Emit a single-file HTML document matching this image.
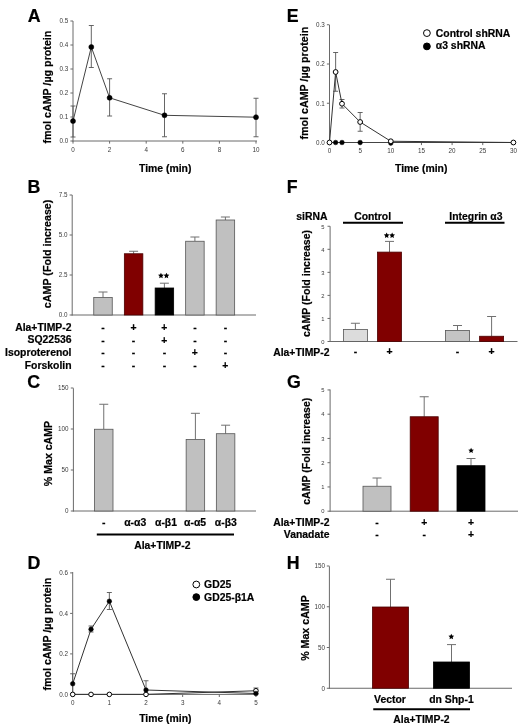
<!DOCTYPE html>
<html><head><meta charset="utf-8"><title>Figure</title>
<style>
html,body{margin:0;padding:0;background:#fff;}
body{width:520px;height:726px;overflow:hidden;}
svg{display:block;filter:blur(0.4px);}
text{font-family:"Liberation Sans", sans-serif;}
text[font-weight]{stroke:#000;stroke-width:0.2px;}
</style></head>
<body>
<svg width="520" height="726" viewBox="0 0 520 726">
<rect x="0" y="0" width="520" height="726" fill="#fff"/>
<text x="27.8" y="21.7" font-size="17.8" font-weight="bold">A</text>
<line x1="73" y1="21" x2="73" y2="141.5" stroke="#6a6a6a" stroke-width="1"/>
<line x1="70.4" y1="141" x2="73" y2="141" stroke="#6a6a6a" stroke-width="1"/>
<text x="68.2" y="143.25" font-size="6.3" text-anchor="end" fill="#3a3a3a">0.0</text>
<line x1="70.4" y1="117" x2="73" y2="117" stroke="#6a6a6a" stroke-width="1"/>
<text x="68.2" y="119.25" font-size="6.3" text-anchor="end" fill="#3a3a3a">0.1</text>
<line x1="70.4" y1="93" x2="73" y2="93" stroke="#6a6a6a" stroke-width="1"/>
<text x="68.2" y="95.25" font-size="6.3" text-anchor="end" fill="#3a3a3a">0.2</text>
<line x1="70.4" y1="69" x2="73" y2="69" stroke="#6a6a6a" stroke-width="1"/>
<text x="68.2" y="71.25" font-size="6.3" text-anchor="end" fill="#3a3a3a">0.3</text>
<line x1="70.4" y1="45" x2="73" y2="45" stroke="#6a6a6a" stroke-width="1"/>
<text x="68.2" y="47.25" font-size="6.3" text-anchor="end" fill="#3a3a3a">0.4</text>
<line x1="70.4" y1="21" x2="73" y2="21" stroke="#6a6a6a" stroke-width="1"/>
<text x="68.2" y="23.25" font-size="6.3" text-anchor="end" fill="#3a3a3a">0.5</text>
<line x1="72.5" y1="141" x2="257" y2="141" stroke="#6a6a6a" stroke-width="1"/>
<line x1="73" y1="141" x2="73" y2="143.6" stroke="#6a6a6a" stroke-width="1"/>
<text x="73" y="151.7" font-size="6.3" text-anchor="middle" fill="#3a3a3a">0</text>
<line x1="109.6" y1="141" x2="109.6" y2="143.6" stroke="#6a6a6a" stroke-width="1"/>
<text x="109.6" y="151.7" font-size="6.3" text-anchor="middle" fill="#3a3a3a">2</text>
<line x1="146.2" y1="141" x2="146.2" y2="143.6" stroke="#6a6a6a" stroke-width="1"/>
<text x="146.2" y="151.7" font-size="6.3" text-anchor="middle" fill="#3a3a3a">4</text>
<line x1="182.8" y1="141" x2="182.8" y2="143.6" stroke="#6a6a6a" stroke-width="1"/>
<text x="182.8" y="151.7" font-size="6.3" text-anchor="middle" fill="#3a3a3a">6</text>
<line x1="219.4" y1="141" x2="219.4" y2="143.6" stroke="#6a6a6a" stroke-width="1"/>
<text x="219.4" y="151.7" font-size="6.3" text-anchor="middle" fill="#3a3a3a">8</text>
<line x1="256" y1="141" x2="256" y2="143.6" stroke="#6a6a6a" stroke-width="1"/>
<text x="256" y="151.7" font-size="6.3" text-anchor="middle" fill="#3a3a3a">10</text>
<line x1="73" y1="106" x2="73" y2="137" stroke="#555" stroke-width="0.9"/>
<line x1="70.5" y1="106" x2="75.5" y2="106" stroke="#555" stroke-width="0.9"/>
<line x1="70.5" y1="137" x2="75.5" y2="137" stroke="#555" stroke-width="0.9"/>
<line x1="91.3" y1="25.5" x2="91.3" y2="67.5" stroke="#555" stroke-width="0.9"/>
<line x1="88.8" y1="25.5" x2="93.8" y2="25.5" stroke="#555" stroke-width="0.9"/>
<line x1="88.8" y1="67.5" x2="93.8" y2="67.5" stroke="#555" stroke-width="0.9"/>
<line x1="109.6" y1="78.75" x2="109.6" y2="116" stroke="#555" stroke-width="0.9"/>
<line x1="107.1" y1="78.75" x2="112.1" y2="78.75" stroke="#555" stroke-width="0.9"/>
<line x1="107.1" y1="116" x2="112.1" y2="116" stroke="#555" stroke-width="0.9"/>
<line x1="164.5" y1="93.75" x2="164.5" y2="136.75" stroke="#555" stroke-width="0.9"/>
<line x1="162" y1="93.75" x2="167" y2="93.75" stroke="#555" stroke-width="0.9"/>
<line x1="162" y1="136.75" x2="167" y2="136.75" stroke="#555" stroke-width="0.9"/>
<line x1="256" y1="98.25" x2="256" y2="136.75" stroke="#555" stroke-width="0.9"/>
<line x1="253.5" y1="98.25" x2="258.5" y2="98.25" stroke="#555" stroke-width="0.9"/>
<line x1="253.5" y1="136.75" x2="258.5" y2="136.75" stroke="#555" stroke-width="0.9"/>
<polyline points="73,121.1 91.3,47 109.6,97.8 164.5,115.3 256,117.2" fill="none" stroke="#444" stroke-width="1"/>
<circle cx="73" cy="121.1" r="2.5" fill="#000" stroke="#000" stroke-width="0.5"/>
<circle cx="91.3" cy="47" r="2.5" fill="#000" stroke="#000" stroke-width="0.5"/>
<circle cx="109.6" cy="97.8" r="2.5" fill="#000" stroke="#000" stroke-width="0.5"/>
<circle cx="164.5" cy="115.3" r="2.5" fill="#000" stroke="#000" stroke-width="0.5"/>
<circle cx="256" cy="117.2" r="2.5" fill="#000" stroke="#000" stroke-width="0.5"/>
<text x="51.2" y="87.1" font-size="10.7" font-weight="bold" text-anchor="middle" transform="rotate(-90 51.2 87.1)">fmol cAMP /µg protein</text>
<text x="165.25" y="172" font-size="10.4" font-weight="bold" text-anchor="middle">Time (min)</text>
<text x="27.6" y="193" font-size="17.8" font-weight="bold">B</text>
<line x1="72.2" y1="195" x2="72.2" y2="315.5" stroke="#6a6a6a" stroke-width="1"/>
<line x1="69.6" y1="315" x2="72.2" y2="315" stroke="#6a6a6a" stroke-width="1"/>
<text x="67.4" y="317.25" font-size="6.3" text-anchor="end" fill="#3a3a3a">0.0</text>
<line x1="69.6" y1="275" x2="72.2" y2="275" stroke="#6a6a6a" stroke-width="1"/>
<text x="67.4" y="277.25" font-size="6.3" text-anchor="end" fill="#3a3a3a">2.5</text>
<line x1="69.6" y1="235" x2="72.2" y2="235" stroke="#6a6a6a" stroke-width="1"/>
<text x="67.4" y="237.25" font-size="6.3" text-anchor="end" fill="#3a3a3a">5.0</text>
<line x1="69.6" y1="195" x2="72.2" y2="195" stroke="#6a6a6a" stroke-width="1"/>
<text x="67.4" y="197.25" font-size="6.3" text-anchor="end" fill="#3a3a3a">7.5</text>
<line x1="71.7" y1="315" x2="256" y2="315" stroke="#6a6a6a" stroke-width="1"/>
<line x1="103" y1="292" x2="103" y2="297.5" stroke="#707070" stroke-width="1"/>
<line x1="98.5" y1="292" x2="107.5" y2="292" stroke="#707070" stroke-width="1"/>
<rect x="93.75" y="297.5" width="18.5" height="17.5" fill="#c0c0c0" stroke="#555" stroke-width="0.8"/>
<line x1="133.6" y1="251.25" x2="133.6" y2="253.75" stroke="#707070" stroke-width="1"/>
<line x1="129.1" y1="251.25" x2="138.1" y2="251.25" stroke="#707070" stroke-width="1"/>
<rect x="124.35" y="253.75" width="18.5" height="61.25" fill="#800000" stroke="#4a0000" stroke-width="0.8"/>
<line x1="164.4" y1="283.2" x2="164.4" y2="288" stroke="#707070" stroke-width="1"/>
<line x1="159.9" y1="283.2" x2="168.9" y2="283.2" stroke="#707070" stroke-width="1"/>
<rect x="155.15" y="288" width="18.5" height="27" fill="#000" stroke="#000" stroke-width="0.8"/>
<line x1="194.9" y1="237" x2="194.9" y2="241.25" stroke="#707070" stroke-width="1"/>
<line x1="190.4" y1="237" x2="199.4" y2="237" stroke="#707070" stroke-width="1"/>
<rect x="185.65" y="241.25" width="18.5" height="73.75" fill="#c0c0c0" stroke="#555" stroke-width="0.8"/>
<line x1="225.4" y1="217" x2="225.4" y2="220" stroke="#707070" stroke-width="1"/>
<line x1="220.9" y1="217" x2="229.9" y2="217" stroke="#707070" stroke-width="1"/>
<rect x="216.15" y="220" width="18.5" height="95" fill="#c0c0c0" stroke="#555" stroke-width="0.8"/>
<polygon points="160.95,272.7 161.8,274.53 163.8,274.77 162.33,276.15 162.71,278.13 160.95,277.15 159.19,278.13 159.57,276.15 158.1,274.77 160.1,274.53" fill="#000"/>
<polygon points="166.45,272.7 167.3,274.53 169.3,274.77 167.83,276.15 168.21,278.13 166.45,277.15 164.69,278.13 165.07,276.15 163.6,274.77 165.6,274.53" fill="#000"/>
<text x="71.5" y="330.5" font-size="10.4" font-weight="bold" text-anchor="end">Ala+TIMP-2</text>
<text x="103" y="331" font-size="10.4" font-weight="bold" text-anchor="middle">-</text>
<text x="133.6" y="331" font-size="10.4" font-weight="bold" text-anchor="middle">+</text>
<text x="164.4" y="331" font-size="10.4" font-weight="bold" text-anchor="middle">+</text>
<text x="194.9" y="331" font-size="10.4" font-weight="bold" text-anchor="middle">-</text>
<text x="225.4" y="331" font-size="10.4" font-weight="bold" text-anchor="middle">-</text>
<text x="71.5" y="343.2" font-size="10.4" font-weight="bold" text-anchor="end">SQ22536</text>
<text x="103" y="343.7" font-size="10.4" font-weight="bold" text-anchor="middle">-</text>
<text x="133.6" y="343.7" font-size="10.4" font-weight="bold" text-anchor="middle">-</text>
<text x="164.4" y="343.7" font-size="10.4" font-weight="bold" text-anchor="middle">+</text>
<text x="194.9" y="343.7" font-size="10.4" font-weight="bold" text-anchor="middle">-</text>
<text x="225.4" y="343.7" font-size="10.4" font-weight="bold" text-anchor="middle">-</text>
<text x="71.5" y="355.9" font-size="10.4" font-weight="bold" text-anchor="end">Isoproterenol</text>
<text x="103" y="356.4" font-size="10.4" font-weight="bold" text-anchor="middle">-</text>
<text x="133.6" y="356.4" font-size="10.4" font-weight="bold" text-anchor="middle">-</text>
<text x="164.4" y="356.4" font-size="10.4" font-weight="bold" text-anchor="middle">-</text>
<text x="194.9" y="356.4" font-size="10.4" font-weight="bold" text-anchor="middle">+</text>
<text x="225.4" y="356.4" font-size="10.4" font-weight="bold" text-anchor="middle">-</text>
<text x="71.5" y="368.6" font-size="10.4" font-weight="bold" text-anchor="end">Forskolin</text>
<text x="103" y="369.1" font-size="10.4" font-weight="bold" text-anchor="middle">-</text>
<text x="133.6" y="369.1" font-size="10.4" font-weight="bold" text-anchor="middle">-</text>
<text x="164.4" y="369.1" font-size="10.4" font-weight="bold" text-anchor="middle">-</text>
<text x="194.9" y="369.1" font-size="10.4" font-weight="bold" text-anchor="middle">-</text>
<text x="225.4" y="369.1" font-size="10.4" font-weight="bold" text-anchor="middle">+</text>
<text x="51.3" y="253.9" font-size="10.7" font-weight="bold" text-anchor="middle" transform="rotate(-90 51.3 253.9)">cAMP (Fold increase)</text>
<text x="27.3" y="387.9" font-size="17.8" font-weight="bold">C</text>
<line x1="73.4" y1="388.25" x2="73.4" y2="511.5" stroke="#6a6a6a" stroke-width="1"/>
<line x1="70.8" y1="511" x2="73.4" y2="511" stroke="#6a6a6a" stroke-width="1"/>
<text x="68.6" y="513.25" font-size="6.3" text-anchor="end" fill="#3a3a3a">0</text>
<line x1="70.8" y1="470" x2="73.4" y2="470" stroke="#6a6a6a" stroke-width="1"/>
<text x="68.6" y="472.25" font-size="6.3" text-anchor="end" fill="#3a3a3a">50</text>
<line x1="70.8" y1="429" x2="73.4" y2="429" stroke="#6a6a6a" stroke-width="1"/>
<text x="68.6" y="431.25" font-size="6.3" text-anchor="end" fill="#3a3a3a">100</text>
<line x1="70.8" y1="388" x2="73.4" y2="388" stroke="#6a6a6a" stroke-width="1"/>
<text x="68.6" y="390.25" font-size="6.3" text-anchor="end" fill="#3a3a3a">150</text>
<line x1="72.9" y1="511" x2="256" y2="511" stroke="#6a6a6a" stroke-width="1"/>
<line x1="103.75" y1="404.25" x2="103.75" y2="429.25" stroke="#707070" stroke-width="1"/>
<line x1="99.25" y1="404.25" x2="108.25" y2="404.25" stroke="#707070" stroke-width="1"/>
<rect x="94.5" y="429.25" width="18.5" height="81.75" fill="#c0c0c0" stroke="#555" stroke-width="0.8"/>
<line x1="195.4" y1="413.3" x2="195.4" y2="439.5" stroke="#707070" stroke-width="1"/>
<line x1="190.9" y1="413.3" x2="199.9" y2="413.3" stroke="#707070" stroke-width="1"/>
<rect x="186.15" y="439.5" width="18.5" height="71.5" fill="#c0c0c0" stroke="#555" stroke-width="0.8"/>
<line x1="225.6" y1="425.2" x2="225.6" y2="433.7" stroke="#707070" stroke-width="1"/>
<line x1="221.1" y1="425.2" x2="230.1" y2="425.2" stroke="#707070" stroke-width="1"/>
<rect x="216.35" y="433.7" width="18.5" height="77.3" fill="#c0c0c0" stroke="#555" stroke-width="0.8"/>
<text x="103.75" y="526.3" font-size="10.4" font-weight="bold" text-anchor="middle">-</text>
<text x="135.2" y="526.3" font-size="10.4" font-weight="bold" text-anchor="middle">α-α3</text>
<text x="166" y="526.3" font-size="10.4" font-weight="bold" text-anchor="middle">α-β1</text>
<text x="195.1" y="526.3" font-size="10.4" font-weight="bold" text-anchor="middle">α-α5</text>
<text x="225.8" y="526.3" font-size="10.4" font-weight="bold" text-anchor="middle">α-β3</text>
<line x1="96.8" y1="534.6" x2="234" y2="534.6" stroke="#000" stroke-width="2"/>
<text x="162.3" y="548.5" font-size="10.4" font-weight="bold" text-anchor="middle">Ala+TIMP-2</text>
<text x="52.3" y="453.5" font-size="10.6" font-weight="bold" text-anchor="middle" transform="rotate(-90 52.3 453.5)">% Max cAMP</text>
<text x="27.6" y="569" font-size="17.8" font-weight="bold">D</text>
<line x1="72.7" y1="572" x2="72.7" y2="694.9" stroke="#6a6a6a" stroke-width="1"/>
<line x1="70.1" y1="694.4" x2="72.7" y2="694.4" stroke="#6a6a6a" stroke-width="1"/>
<text x="67.9" y="696.65" font-size="6.3" text-anchor="end" fill="#3a3a3a">0.0</text>
<line x1="70.1" y1="653.9" x2="72.7" y2="653.9" stroke="#6a6a6a" stroke-width="1"/>
<text x="67.9" y="656.15" font-size="6.3" text-anchor="end" fill="#3a3a3a">0.2</text>
<line x1="70.1" y1="613.4" x2="72.7" y2="613.4" stroke="#6a6a6a" stroke-width="1"/>
<text x="67.9" y="615.65" font-size="6.3" text-anchor="end" fill="#3a3a3a">0.4</text>
<line x1="70.1" y1="572.9" x2="72.7" y2="572.9" stroke="#6a6a6a" stroke-width="1"/>
<text x="67.9" y="575.15" font-size="6.3" text-anchor="end" fill="#3a3a3a">0.6</text>
<line x1="72.2" y1="694.4" x2="257.5" y2="694.4" stroke="#6a6a6a" stroke-width="1"/>
<line x1="72.7" y1="694.4" x2="72.7" y2="697" stroke="#6a6a6a" stroke-width="1"/>
<text x="72.7" y="704.6" font-size="6.3" text-anchor="middle" fill="#3a3a3a">0</text>
<line x1="109.35" y1="694.4" x2="109.35" y2="697" stroke="#6a6a6a" stroke-width="1"/>
<text x="109.35" y="704.6" font-size="6.3" text-anchor="middle" fill="#3a3a3a">1</text>
<line x1="146" y1="694.4" x2="146" y2="697" stroke="#6a6a6a" stroke-width="1"/>
<text x="146" y="704.6" font-size="6.3" text-anchor="middle" fill="#3a3a3a">2</text>
<line x1="182.65" y1="694.4" x2="182.65" y2="697" stroke="#6a6a6a" stroke-width="1"/>
<text x="182.65" y="704.6" font-size="6.3" text-anchor="middle" fill="#3a3a3a">3</text>
<line x1="219.3" y1="694.4" x2="219.3" y2="697" stroke="#6a6a6a" stroke-width="1"/>
<text x="219.3" y="704.6" font-size="6.3" text-anchor="middle" fill="#3a3a3a">4</text>
<line x1="255.95" y1="694.4" x2="255.95" y2="697" stroke="#6a6a6a" stroke-width="1"/>
<text x="255.95" y="704.6" font-size="6.3" text-anchor="middle" fill="#3a3a3a">5</text>
<line x1="72.7" y1="673.75" x2="72.7" y2="694" stroke="#555" stroke-width="0.9"/>
<line x1="70.2" y1="673.75" x2="75.2" y2="673.75" stroke="#555" stroke-width="0.9"/>
<line x1="70.2" y1="694" x2="75.2" y2="694" stroke="#555" stroke-width="0.9"/>
<line x1="91.03" y1="626" x2="91.03" y2="632" stroke="#555" stroke-width="0.9"/>
<line x1="88.53" y1="626" x2="93.53" y2="626" stroke="#555" stroke-width="0.9"/>
<line x1="88.53" y1="632" x2="93.53" y2="632" stroke="#555" stroke-width="0.9"/>
<line x1="109.35" y1="592.5" x2="109.35" y2="609.5" stroke="#555" stroke-width="0.9"/>
<line x1="106.85" y1="592.5" x2="111.85" y2="592.5" stroke="#555" stroke-width="0.9"/>
<line x1="106.85" y1="609.5" x2="111.85" y2="609.5" stroke="#555" stroke-width="0.9"/>
<line x1="146" y1="680.75" x2="146" y2="694" stroke="#555" stroke-width="0.9"/>
<line x1="143.5" y1="680.75" x2="148.5" y2="680.75" stroke="#555" stroke-width="0.9"/>
<line x1="143.5" y1="694" x2="148.5" y2="694" stroke="#555" stroke-width="0.9"/>
<line x1="255.95" y1="688" x2="255.95" y2="694" stroke="#555" stroke-width="0.9"/>
<line x1="253.45" y1="688" x2="258.45" y2="688" stroke="#555" stroke-width="0.9"/>
<line x1="253.45" y1="694" x2="258.45" y2="694" stroke="#555" stroke-width="0.9"/>
<polyline points="72.7,694.4 91.03,694.4 109.35,694.4 146,694.4 255.95,690.75" fill="none" stroke="#333" stroke-width="1"/>
<polyline points="72.7,683.75 91.03,629.25 109.35,601.25 146,690 255.95,693.5" fill="none" stroke="#333" stroke-width="1"/>
<circle cx="72.7" cy="694.4" r="2.3" fill="#fff" stroke="#000" stroke-width="1"/>
<circle cx="91.03" cy="694.4" r="2.3" fill="#fff" stroke="#000" stroke-width="1"/>
<circle cx="109.35" cy="694.4" r="2.3" fill="#fff" stroke="#000" stroke-width="1"/>
<circle cx="146" cy="694.4" r="2.3" fill="#fff" stroke="#000" stroke-width="1"/>
<circle cx="255.95" cy="690.75" r="2.3" fill="#fff" stroke="#000" stroke-width="1"/>
<circle cx="72.7" cy="683.75" r="2.3" fill="#000" stroke="#000" stroke-width="0.5"/>
<circle cx="91.03" cy="629.25" r="2.3" fill="#000" stroke="#000" stroke-width="0.5"/>
<circle cx="109.35" cy="601.25" r="2.3" fill="#000" stroke="#000" stroke-width="0.5"/>
<circle cx="146" cy="690" r="2.3" fill="#000" stroke="#000" stroke-width="0.5"/>
<circle cx="255.95" cy="693.5" r="2.3" fill="#000" stroke="#000" stroke-width="0.5"/>
<circle cx="196.3" cy="584.5" r="3.4" fill="#fff" stroke="#000" stroke-width="1"/>
<text x="204.1" y="588.4" font-size="10.4" font-weight="bold">GD25</text>
<circle cx="196.3" cy="597.1" r="3.4" fill="#000" stroke="#000" stroke-width="1"/>
<text x="204.1" y="600.9" font-size="10.4" font-weight="bold">GD25-β1A</text>
<text x="51.3" y="634.2" font-size="10.7" font-weight="bold" text-anchor="middle" transform="rotate(-90 51.3 634.2)">fmol cAMP /µg protein</text>
<text x="165.3" y="722" font-size="10.4" font-weight="bold" text-anchor="middle">Time (min)</text>
<text x="286.8" y="22" font-size="17.8" font-weight="bold">E</text>
<line x1="329.5" y1="25" x2="329.5" y2="143" stroke="#6a6a6a" stroke-width="1"/>
<line x1="326.9" y1="142.5" x2="329.5" y2="142.5" stroke="#6a6a6a" stroke-width="1"/>
<text x="324.7" y="144.75" font-size="6.3" text-anchor="end" fill="#3a3a3a">0.0</text>
<line x1="326.9" y1="103.25" x2="329.5" y2="103.25" stroke="#6a6a6a" stroke-width="1"/>
<text x="324.7" y="105.5" font-size="6.3" text-anchor="end" fill="#3a3a3a">0.1</text>
<line x1="326.9" y1="64" x2="329.5" y2="64" stroke="#6a6a6a" stroke-width="1"/>
<text x="324.7" y="66.25" font-size="6.3" text-anchor="end" fill="#3a3a3a">0.2</text>
<line x1="326.9" y1="24.75" x2="329.5" y2="24.75" stroke="#6a6a6a" stroke-width="1"/>
<text x="324.7" y="27" font-size="6.3" text-anchor="end" fill="#3a3a3a">0.3</text>
<line x1="329" y1="142.5" x2="514" y2="142.5" stroke="#6a6a6a" stroke-width="1"/>
<line x1="329.5" y1="142.5" x2="329.5" y2="145.1" stroke="#6a6a6a" stroke-width="1"/>
<text x="329.5" y="152.9" font-size="6.3" text-anchor="middle" fill="#3a3a3a">0</text>
<line x1="360.15" y1="142.5" x2="360.15" y2="145.1" stroke="#6a6a6a" stroke-width="1"/>
<text x="360.15" y="152.9" font-size="6.3" text-anchor="middle" fill="#3a3a3a">5</text>
<line x1="390.8" y1="142.5" x2="390.8" y2="145.1" stroke="#6a6a6a" stroke-width="1"/>
<text x="390.8" y="152.9" font-size="6.3" text-anchor="middle" fill="#3a3a3a">10</text>
<line x1="421.45" y1="142.5" x2="421.45" y2="145.1" stroke="#6a6a6a" stroke-width="1"/>
<text x="421.45" y="152.9" font-size="6.3" text-anchor="middle" fill="#3a3a3a">15</text>
<line x1="452.1" y1="142.5" x2="452.1" y2="145.1" stroke="#6a6a6a" stroke-width="1"/>
<text x="452.1" y="152.9" font-size="6.3" text-anchor="middle" fill="#3a3a3a">20</text>
<line x1="482.75" y1="142.5" x2="482.75" y2="145.1" stroke="#6a6a6a" stroke-width="1"/>
<text x="482.75" y="152.9" font-size="6.3" text-anchor="middle" fill="#3a3a3a">25</text>
<line x1="513.4" y1="142.5" x2="513.4" y2="145.1" stroke="#6a6a6a" stroke-width="1"/>
<text x="513.4" y="152.9" font-size="6.3" text-anchor="middle" fill="#3a3a3a">30</text>
<line x1="335.63" y1="52.5" x2="335.63" y2="91.25" stroke="#555" stroke-width="0.9"/>
<line x1="333.13" y1="52.5" x2="338.13" y2="52.5" stroke="#555" stroke-width="0.9"/>
<line x1="333.13" y1="91.25" x2="338.13" y2="91.25" stroke="#555" stroke-width="0.9"/>
<line x1="342" y1="99.5" x2="342" y2="108" stroke="#555" stroke-width="0.9"/>
<line x1="339.5" y1="99.5" x2="344.5" y2="99.5" stroke="#555" stroke-width="0.9"/>
<line x1="339.5" y1="108" x2="344.5" y2="108" stroke="#555" stroke-width="0.9"/>
<line x1="360.15" y1="112.5" x2="360.15" y2="131.25" stroke="#555" stroke-width="0.9"/>
<line x1="357.65" y1="112.5" x2="362.65" y2="112.5" stroke="#555" stroke-width="0.9"/>
<line x1="357.65" y1="131.25" x2="362.65" y2="131.25" stroke="#555" stroke-width="0.9"/>
<polyline points="329.5,142.5 335.63,142.5 342,142.5 360.15,142.5 390.8,142.5 513.4,142.5" fill="none" stroke="#444" stroke-width="1.2"/>
<polyline points="329.5,142.5 335.63,72 342,103.75 360.15,122 390.8,141.25 513.4,142.5" fill="none" stroke="#333" stroke-width="1"/>
<circle cx="335.63" cy="142.5" r="2.3" fill="#000" stroke="#000" stroke-width="0.5"/>
<circle cx="342" cy="142.5" r="2.3" fill="#000" stroke="#000" stroke-width="0.5"/>
<circle cx="360.15" cy="142.5" r="2.3" fill="#000" stroke="#000" stroke-width="0.5"/>
<circle cx="390.8" cy="143.1" r="2.3" fill="#000" stroke="#000" stroke-width="0.5"/>
<circle cx="329.5" cy="142.5" r="2.4" fill="#fff" stroke="#000" stroke-width="1"/>
<circle cx="335.63" cy="72" r="2.4" fill="#fff" stroke="#000" stroke-width="1"/>
<circle cx="342" cy="103.75" r="2.4" fill="#fff" stroke="#000" stroke-width="1"/>
<circle cx="360.15" cy="122" r="2.4" fill="#fff" stroke="#000" stroke-width="1"/>
<circle cx="390.8" cy="141.25" r="2.4" fill="#fff" stroke="#000" stroke-width="1"/>
<circle cx="513.4" cy="142.5" r="2.4" fill="#fff" stroke="#000" stroke-width="1"/>
<circle cx="426.9" cy="33.1" r="3.4" fill="#fff" stroke="#000" stroke-width="1"/>
<text x="435.8" y="36.6" font-size="10.4" font-weight="bold">Control shRNA</text>
<circle cx="426.9" cy="46.4" r="3.4" fill="#000" stroke="#000" stroke-width="1"/>
<text x="435.8" y="49.3" font-size="10.4" font-weight="bold">α3 shRNA</text>
<text x="308.4" y="83.1" font-size="10.7" font-weight="bold" text-anchor="middle" transform="rotate(-90 308.4 83.1)">fmol cAMP /µg protein</text>
<text x="421.25" y="172" font-size="10.4" font-weight="bold" text-anchor="middle">Time (min)</text>
<text x="286.8" y="193.2" font-size="17.8" font-weight="bold">F</text>
<line x1="330.1" y1="226.25" x2="330.1" y2="342" stroke="#6a6a6a" stroke-width="1"/>
<line x1="327.5" y1="341.5" x2="330.1" y2="341.5" stroke="#6a6a6a" stroke-width="1"/>
<text x="324.6" y="343.75" font-size="5.8" text-anchor="end" fill="#3a3a3a">0</text>
<line x1="327.5" y1="318.45" x2="330.1" y2="318.45" stroke="#6a6a6a" stroke-width="1"/>
<text x="324.6" y="320.7" font-size="5.8" text-anchor="end" fill="#3a3a3a">1</text>
<line x1="327.5" y1="295.4" x2="330.1" y2="295.4" stroke="#6a6a6a" stroke-width="1"/>
<text x="324.6" y="297.65" font-size="5.8" text-anchor="end" fill="#3a3a3a">2</text>
<line x1="327.5" y1="272.35" x2="330.1" y2="272.35" stroke="#6a6a6a" stroke-width="1"/>
<text x="324.6" y="274.6" font-size="5.8" text-anchor="end" fill="#3a3a3a">3</text>
<line x1="327.5" y1="249.3" x2="330.1" y2="249.3" stroke="#6a6a6a" stroke-width="1"/>
<text x="324.6" y="251.55" font-size="5.8" text-anchor="end" fill="#3a3a3a">4</text>
<line x1="327.5" y1="226.25" x2="330.1" y2="226.25" stroke="#6a6a6a" stroke-width="1"/>
<text x="324.6" y="228.5" font-size="5.8" text-anchor="end" fill="#3a3a3a">5</text>
<line x1="329.6" y1="341.5" x2="517.5" y2="341.5" stroke="#6a6a6a" stroke-width="1"/>
<line x1="355.4" y1="323.25" x2="355.4" y2="329.5" stroke="#707070" stroke-width="1"/>
<line x1="350.9" y1="323.25" x2="359.9" y2="323.25" stroke="#707070" stroke-width="1"/>
<rect x="343.4" y="329.5" width="24" height="12" fill="#dcdcdc" stroke="#555" stroke-width="0.8"/>
<line x1="389.5" y1="241.4" x2="389.5" y2="252.1" stroke="#707070" stroke-width="1"/>
<line x1="385" y1="241.4" x2="394" y2="241.4" stroke="#707070" stroke-width="1"/>
<rect x="377.5" y="252.1" width="24" height="89.4" fill="#800000" stroke="#4a0000" stroke-width="0.8"/>
<line x1="457.5" y1="325.5" x2="457.5" y2="330.5" stroke="#707070" stroke-width="1"/>
<line x1="453" y1="325.5" x2="462" y2="325.5" stroke="#707070" stroke-width="1"/>
<rect x="445.5" y="330.5" width="24" height="11" fill="#c4c4c4" stroke="#555" stroke-width="0.8"/>
<line x1="491.6" y1="316.5" x2="491.6" y2="336.25" stroke="#707070" stroke-width="1"/>
<line x1="487.1" y1="316.5" x2="496.1" y2="316.5" stroke="#707070" stroke-width="1"/>
<rect x="479.6" y="336.25" width="24" height="5.25" fill="#800000" stroke="#4a0000" stroke-width="0.8"/>
<polygon points="386.65,232.45 387.5,234.28 389.5,234.52 388.03,235.9 388.41,237.88 386.65,236.9 384.89,237.88 385.27,235.9 383.8,234.52 385.8,234.28" fill="#000"/>
<polygon points="392.15,232.45 393,234.28 395,234.52 393.53,235.9 393.91,237.88 392.15,236.9 390.39,237.88 390.77,235.9 389.3,234.52 391.3,234.28" fill="#000"/>
<text x="296.25" y="219.5" font-size="10.4" font-weight="bold">siRNA</text>
<text x="372.6" y="219.5" font-size="10.4" font-weight="bold" text-anchor="middle">Control</text>
<line x1="343" y1="222.8" x2="403" y2="222.8" stroke="#000" stroke-width="2"/>
<text x="475.9" y="219.5" font-size="10.4" font-weight="bold" text-anchor="middle">Integrin α3</text>
<line x1="445" y1="222.8" x2="504.5" y2="222.8" stroke="#000" stroke-width="2"/>
<text x="329.5" y="355.75" font-size="10.4" font-weight="bold" text-anchor="end">Ala+TIMP-2</text>
<text x="355.4" y="355" font-size="10.4" font-weight="bold" text-anchor="middle">-</text>
<text x="389.5" y="355" font-size="10.4" font-weight="bold" text-anchor="middle">+</text>
<text x="457.5" y="355" font-size="10.4" font-weight="bold" text-anchor="middle">-</text>
<text x="491.6" y="355" font-size="10.4" font-weight="bold" text-anchor="middle">+</text>
<text x="309.9" y="283.5" font-size="10.55" font-weight="bold" text-anchor="middle" transform="rotate(-90 309.9 283.5)">cAMP (Fold increase)</text>
<text x="286.9" y="388.2" font-size="17.8" font-weight="bold">G</text>
<line x1="330.1" y1="389.5" x2="330.1" y2="511.7" stroke="#6a6a6a" stroke-width="1"/>
<line x1="327.5" y1="511.2" x2="330.1" y2="511.2" stroke="#6a6a6a" stroke-width="1"/>
<text x="324.6" y="513.45" font-size="5.8" text-anchor="end" fill="#3a3a3a">0</text>
<line x1="327.5" y1="486.95" x2="330.1" y2="486.95" stroke="#6a6a6a" stroke-width="1"/>
<text x="324.6" y="489.2" font-size="5.8" text-anchor="end" fill="#3a3a3a">1</text>
<line x1="327.5" y1="462.7" x2="330.1" y2="462.7" stroke="#6a6a6a" stroke-width="1"/>
<text x="324.6" y="464.95" font-size="5.8" text-anchor="end" fill="#3a3a3a">2</text>
<line x1="327.5" y1="438.45" x2="330.1" y2="438.45" stroke="#6a6a6a" stroke-width="1"/>
<text x="324.6" y="440.7" font-size="5.8" text-anchor="end" fill="#3a3a3a">3</text>
<line x1="327.5" y1="414.2" x2="330.1" y2="414.2" stroke="#6a6a6a" stroke-width="1"/>
<text x="324.6" y="416.45" font-size="5.8" text-anchor="end" fill="#3a3a3a">4</text>
<line x1="327.5" y1="389.95" x2="330.1" y2="389.95" stroke="#6a6a6a" stroke-width="1"/>
<text x="324.6" y="392.2" font-size="5.8" text-anchor="end" fill="#3a3a3a">5</text>
<line x1="329.6" y1="511.2" x2="518" y2="511.2" stroke="#6a6a6a" stroke-width="1"/>
<line x1="377" y1="478" x2="377" y2="486.25" stroke="#707070" stroke-width="1"/>
<line x1="372.5" y1="478" x2="381.5" y2="478" stroke="#707070" stroke-width="1"/>
<rect x="363" y="486.25" width="28" height="24.95" fill="#c0c0c0" stroke="#555" stroke-width="0.8"/>
<line x1="424.2" y1="396.75" x2="424.2" y2="416.75" stroke="#707070" stroke-width="1"/>
<line x1="419.7" y1="396.75" x2="428.7" y2="396.75" stroke="#707070" stroke-width="1"/>
<rect x="410.2" y="416.75" width="28" height="94.45" fill="#800000" stroke="#4a0000" stroke-width="0.8"/>
<line x1="471" y1="458.5" x2="471" y2="465.7" stroke="#707070" stroke-width="1"/>
<line x1="466.5" y1="458.5" x2="475.5" y2="458.5" stroke="#707070" stroke-width="1"/>
<rect x="457" y="465.7" width="28" height="45.5" fill="#000" stroke="#000" stroke-width="0.8"/>
<polygon points="471.1,447.65 471.95,449.48 473.95,449.72 472.48,451.1 472.86,453.08 471.1,452.1 469.34,453.08 469.72,451.1 468.25,449.72 470.25,449.48" fill="#000"/>
<text x="329.5" y="525.75" font-size="10.4" font-weight="bold" text-anchor="end">Ala+TIMP-2</text>
<text x="377" y="525.75" font-size="10.4" font-weight="bold" text-anchor="middle">-</text>
<text x="424.2" y="525.75" font-size="10.4" font-weight="bold" text-anchor="middle">+</text>
<text x="471" y="525.75" font-size="10.4" font-weight="bold" text-anchor="middle">+</text>
<text x="329.5" y="538.25" font-size="10.4" font-weight="bold" text-anchor="end">Vanadate</text>
<text x="377" y="538.25" font-size="10.4" font-weight="bold" text-anchor="middle">-</text>
<text x="424.2" y="538.25" font-size="10.4" font-weight="bold" text-anchor="middle">-</text>
<text x="471" y="538.25" font-size="10.4" font-weight="bold" text-anchor="middle">+</text>
<text x="309.9" y="451.25" font-size="10.55" font-weight="bold" text-anchor="middle" transform="rotate(-90 309.9 451.25)">cAMP (Fold increase)</text>
<text x="286.8" y="569" font-size="17.8" font-weight="bold">H</text>
<line x1="329.4" y1="566.25" x2="329.4" y2="688.75" stroke="#6a6a6a" stroke-width="1"/>
<line x1="326.8" y1="688.25" x2="329.4" y2="688.25" stroke="#6a6a6a" stroke-width="1"/>
<text x="325" y="690.5" font-size="6.3" text-anchor="end" fill="#3a3a3a">0</text>
<line x1="326.8" y1="647.5" x2="329.4" y2="647.5" stroke="#6a6a6a" stroke-width="1"/>
<text x="325" y="649.75" font-size="6.3" text-anchor="end" fill="#3a3a3a">50</text>
<line x1="326.8" y1="606.75" x2="329.4" y2="606.75" stroke="#6a6a6a" stroke-width="1"/>
<text x="325" y="609" font-size="6.3" text-anchor="end" fill="#3a3a3a">100</text>
<line x1="326.8" y1="566" x2="329.4" y2="566" stroke="#6a6a6a" stroke-width="1"/>
<text x="325" y="568.25" font-size="6.3" text-anchor="end" fill="#3a3a3a">150</text>
<line x1="328.9" y1="688.25" x2="512" y2="688.25" stroke="#6a6a6a" stroke-width="1"/>
<line x1="390.5" y1="579.25" x2="390.5" y2="607" stroke="#707070" stroke-width="1"/>
<line x1="386" y1="579.25" x2="395" y2="579.25" stroke="#707070" stroke-width="1"/>
<rect x="372.5" y="607" width="36" height="81.25" fill="#800000" stroke="#4a0000" stroke-width="0.8"/>
<line x1="451.5" y1="644.6" x2="451.5" y2="662" stroke="#707070" stroke-width="1"/>
<line x1="447" y1="644.6" x2="456" y2="644.6" stroke="#707070" stroke-width="1"/>
<rect x="433.5" y="662" width="36" height="26.25" fill="#000" stroke="#000" stroke-width="0.8"/>
<polygon points="451.3,633.7 452.15,635.53 454.15,635.77 452.68,637.15 453.06,639.13 451.3,638.15 449.54,639.13 449.92,637.15 448.45,635.77 450.45,635.53" fill="#000"/>
<text x="390" y="703.2" font-size="10.4" font-weight="bold" text-anchor="middle">Vector</text>
<text x="451.5" y="703.2" font-size="10.4" font-weight="bold" text-anchor="middle">dn Shp-1</text>
<line x1="373.25" y1="709.2" x2="470" y2="709.2" stroke="#000" stroke-width="2"/>
<text x="421.5" y="722.5" font-size="10.4" font-weight="bold" text-anchor="middle">Ala+TIMP-2</text>
<text x="309.3" y="628" font-size="10.65" font-weight="bold" text-anchor="middle" transform="rotate(-90 309.3 628)">% Max cAMP</text>
</svg>
</body></html>
